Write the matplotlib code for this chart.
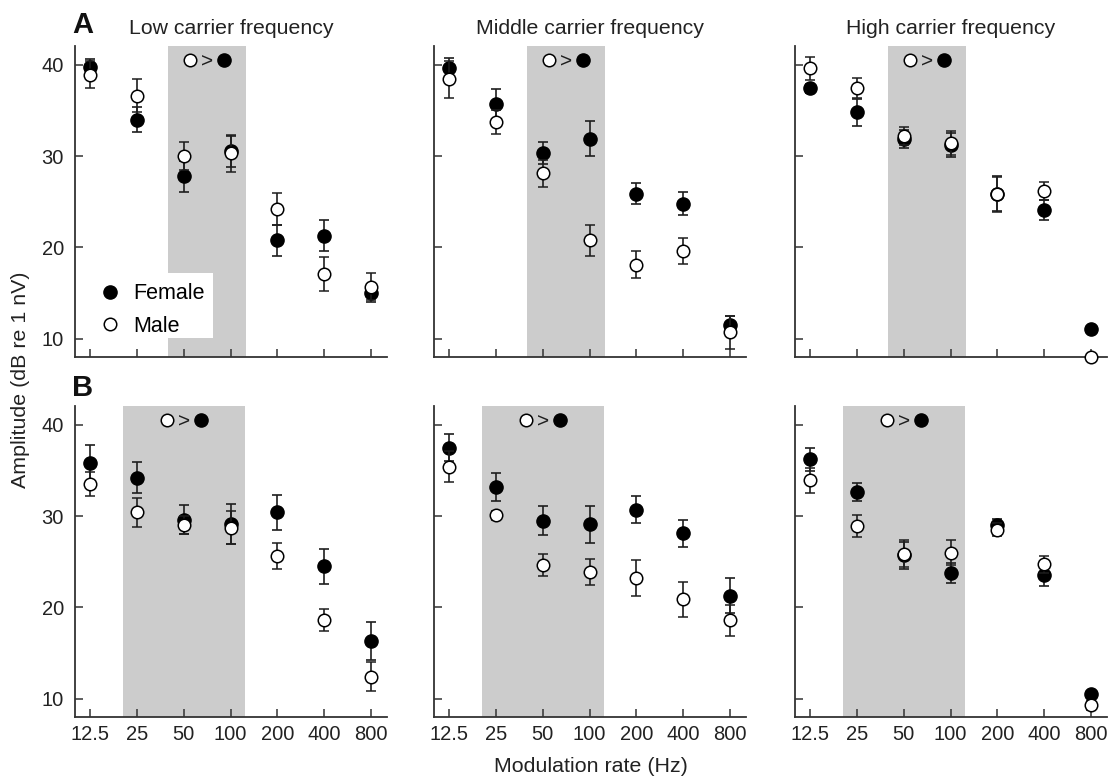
import matplotlib
matplotlib.use("Agg")
import matplotlib.pyplot as plt
from matplotlib.lines import Line2D
from matplotlib.patches import Rectangle
from matplotlib.ticker import FixedLocator, FixedFormatter, NullLocator

plt.rcParams['font.family'] = ['Liberation Sans', 'DejaVu Sans']

rates = [12.5, 25, 50, 100, 200, 400, 800]
rate_labels = ["12.5", "25", "50", "100", "200", "400", "800"]
carrier_titles = ["Low carrier frequency", "Middle carrier frequency", "High carrier frequency"]
row_letters = ["A", "B"]

# Row A
a_low_female = [39.8, 34.0, 27.8, 30.5, 20.8, 21.3, 15.0]
a_low_female_err = [0.8, 1.4, 1.7, 1.7, 1.7, 1.7, 1.0]
a_low_male = [38.9, 36.6, 30.0, 30.3, 24.2, 17.1, 15.7]
a_low_male_err = [1.5, 1.8, 1.5, 2.0, 1.8, 1.9, 1.5]

a_mid_female = [39.6, 35.7, 30.3, 31.9, 25.9, 24.8, 11.5]
a_mid_female_err = [1.1, 1.6, 1.2, 1.9, 1.2, 1.3, 1.0]
a_mid_male = [38.4, 33.7, 28.1, 20.8, 18.1, 19.6, 10.7]
a_mid_male_err = [2.0, 1.3, 1.5, 1.7, 1.5, 1.4, 1.8]

a_high_female = [37.4, 34.8, 31.9, 31.2, 25.9, 24.1, 11.1]
a_high_female_err = [0.5, 1.5, 1.0, 1.3, 1.9, 1.1, 0.3]
a_high_male = [39.6, 37.5, 32.2, 31.4, 25.8, 26.2, 8.0]
a_high_male_err = [1.3, 1.1, 1.0, 1.3, 1.9, 1.0, 0.3]

# Row B
b_low_female = [35.8, 34.2, 29.6, 29.1, 30.4, 24.5, 16.3]
b_low_female_err = [2.0, 1.7, 1.6, 2.2, 1.9, 1.9, 2.1]
b_low_male = [33.5, 30.4, 29.0, 28.7, 25.6, 18.6, 12.4]
b_low_male_err = [1.3, 1.6, 1.0, 1.8, 1.4, 1.2, 1.6]

b_mid_female = [37.5, 33.2, 29.5, 29.1, 30.7, 28.1, 21.3]
b_mid_female_err = [1.5, 1.5, 1.6, 2.0, 1.5, 1.5, 1.9]
b_mid_male = [35.4, 30.1, 24.6, 23.9, 23.2, 20.9, 18.6]
b_mid_male_err = [1.7, 0.5, 1.2, 1.4, 2.0, 1.9, 1.7]

b_high_female = [36.2, 32.6, 25.7, 23.8, 29.0, 23.5, 10.5]
b_high_female_err = [1.3, 1.0, 1.5, 1.1, 0.7, 1.2, 0.4]
b_high_male = [33.9, 28.9, 25.9, 26.0, 28.5, 24.7, 9.3]
b_high_male_err = [1.4, 1.2, 1.5, 1.4, 0.7, 0.9, 0.5]

# shaded "male > female" region per row (Hz)
shade_a = (39.5, 125.0)
shade_b = (20.3, 123.0)

panels = [
    [(a_low_female, a_low_female_err, a_low_male, a_low_male_err),
     (a_mid_female, a_mid_female_err, a_mid_male, a_mid_male_err),
     (a_high_female, a_high_female_err, a_high_male, a_high_male_err)],
    [(b_low_female, b_low_female_err, b_low_male, b_low_male_err),
     (b_mid_female, b_mid_female_err, b_mid_male, b_mid_male_err),
     (b_high_female, b_high_female_err, b_high_male, b_high_male_err)],
]
shades = [shade_a, shade_b]
letter_y = [1.042, 1.032]

W, H = 1110, 778
fig = plt.figure(figsize=(W / 100, H / 100), dpi=100)

col_left = [75, 434, 795]
ax_w = 312
row_top = [46, 406]
ax_h = 311

ink = '#1e1e1e'
shade_col = '#cccccc'

for r in range(2):
    for c in range(3):
        l = col_left[c]
        t = row_top[r]
        ax = fig.add_axes([l / W, 1 - (t + ax_h) / H, ax_w / W, ax_h / H])
        fem, fem_e, mal, mal_e = panels[r][c]
        ax.set_xscale('log', base=2)
        ax.set_xlim(10.0, 1012.0)
        ax.set_ylim(8.0, 42.05)
        s0, s1 = shades[r]
        ax.axvspan(s0, s1, color=shade_col, lw=0, zorder=0.5)
        # annotation  O > ●
        cen = (s0 * s1) ** 0.5
        f = 2 ** 0.36
        ax.plot([cen / f], [40.5], marker='o', ms=9, mfc='white', mec='black', mew=1.1, ls='', zorder=4, clip_on=False)
        ax.plot([cen * f], [40.5], marker='o', ms=9.5, mfc='black', mec='black', ls='', zorder=4, clip_on=False)
        ax.text(cen, 40.5, '>', ha='center', va='center_baseline', fontsize=15, color=ink, zorder=4)

        ax.errorbar(rates, fem, yerr=fem_e, fmt='o', ms=9.5, mfc='black', mec='black',
                    ecolor=ink, elinewidth=1.2, capsize=3.6, capthick=1.2, zorder=3, clip_on=False)
        ax.errorbar(rates, mal, yerr=mal_e, fmt='o', ms=9, mfc='white', mec='black', mew=1.1,
                    ecolor=ink, elinewidth=1.2, capsize=3.6, capthick=1.2, zorder=3.5, clip_on=False)

        for sp in ['top', 'right']:
            ax.spines[sp].set_visible(False)
        for sp in ['left', 'bottom']:
            ax.spines[sp].set_color('#333333')
            ax.spines[sp].set_linewidth(1.3)
        ax.xaxis.set_major_locator(FixedLocator(rates))
        ax.xaxis.set_minor_locator(NullLocator())
        ax.set_yticks([10, 20, 30, 40])
        ax.tick_params(direction='in', length=5.5, width=1.1, color='#333333',
                       labelsize=14.5, labelcolor='#222222')
        ax.tick_params(axis='x', pad=6)
        ax.tick_params(axis='y', pad=8)
        if r == 1:
            ax.xaxis.set_major_formatter(FixedFormatter(rate_labels))
        else:
            ax.set_xticklabels([])
        if c == 0:
            ax.set_yticklabels(['10', '20', '30', '40'])
        else:
            ax.set_yticklabels([])
        if r == 0:
            ax.set_title(carrier_titles[c], fontsize=15.3, color='#222222', pad=9)
        if c == 0:
            ax.text(-0.01, letter_y[r], row_letters[r], transform=ax.transAxes, fontsize=21,
                    fontweight='bold', color='#111111', ha='left', va='baseline')
        if r == 0 and c == 0:
            ax.add_patch(Rectangle((0.0, 0.061), 0.442, 0.209, transform=ax.transAxes,
                                   facecolor='white', edgecolor='none', zorder=1))
            handles = [Line2D([], [], marker='o', ls='', ms=9.5, mfc='black', mec='black'),
                       Line2D([], [], marker='o', ls='', ms=9, mfc='white', mec='black', mew=1.1)]
            ax.legend(handles, ['Female', 'Male'], loc='center left',
                      bbox_to_anchor=(0.078, 0.151), frameon=False, fontsize=15.5,
                      handlelength=1.0, handletextpad=0.57, labelspacing=0.55,
                      borderpad=0, borderaxespad=0)

fig.text(21 / W, 1 - 380 / H, 'Amplitude (dB re 1 nV)', rotation=90, ha='center', va='center',
         fontsize=15.4, color='#222222')
fig.text(591 / W, 1 - 766 / H, 'Modulation rate (Hz)', ha='center', va='center',
         fontsize=15.4, color='#222222')

fig.savefig('out.png', dpi=100)
